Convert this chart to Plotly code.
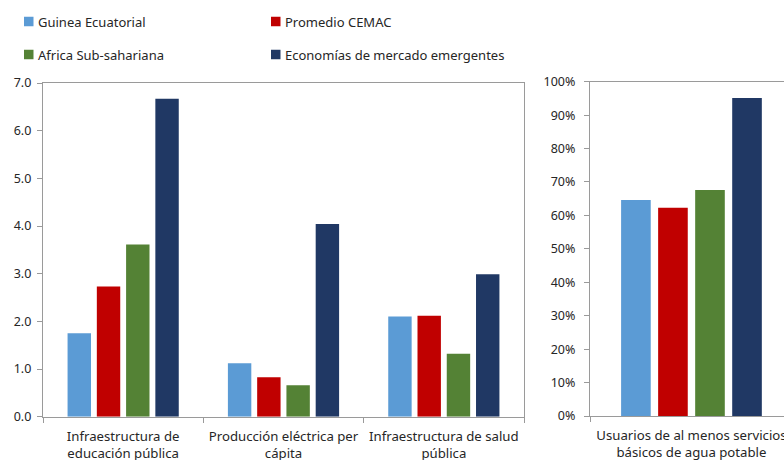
import plotly.graph_objects as go

# Indicator values by group
series = ["Guinea Ecuatorial", "Promedio CEMAC", "Africa Sub-sahariana", "Economías de mercado emergentes"]
colors = ["#5B9BD5", "#C00000", "#548235", "#203864"]

infra_categories = ["Infraestructura de<br>educación pública",
                    "Producción eléctrica per<br>cápita",
                    "Infraestructura de salud<br>pública"]
guinea_infra = [1.75, 1.12, 2.10]
cemac_infra = [2.73, 0.83, 2.12]
ssa_infra = [3.61, 0.66, 1.32]
eme_infra = [6.67, 4.04, 2.99]

water_category = ["Usuarios de al menos servicios<br>básicos de agua potable"]
guinea_water = [0.646]
cemac_water = [0.623]
ssa_water = [0.676]
eme_water = [0.951]

infra_values = [guinea_infra, cemac_infra, ssa_infra, eme_infra]
water_values = [guinea_water, cemac_water, ssa_water, eme_water]

W, H = 784, 460
FONT = "Noto Sans"
AXIS_COLOR = "#9a9a9a"
TEXT_COLOR = "#262626"

fig = go.Figure()
for name, color, vals in zip(series, colors, infra_values):
    fig.add_trace(go.Bar(x=infra_categories, y=vals, name=name, marker_color=color,
                         marker_line_width=0, xaxis="x", yaxis="y", showlegend=False))
for name, color, vals in zip(series, colors, water_values):
    fig.add_trace(go.Bar(x=water_category, y=vals, name=name, marker_color=color,
                         marker_line_width=0, xaxis="x2", yaxis="y2", showlegend=False))


def px_x(p):
    return p / W


def px_y(p):
    return 1 - p / H


# Legend built from shapes and annotations, two columns by two rows
shapes = []
annotations = []
legend_pos = [(24, 21.5), (271, 21.5), (24, 54.5), (271, 54.5)]
for (lx, ly), name, color in zip(legend_pos, series, colors):
    shapes.append(dict(type="rect", xref="paper", yref="paper",
                       x0=px_x(lx), x1=px_x(lx + 9.5), y0=px_y(ly + 4.75), y1=px_y(ly - 4.75),
                       fillcolor=color, line_width=0))
    annotations.append(dict(text=name, xref="paper", yref="paper", x=px_x(lx + 12), y=px_y(ly),
                            xanchor="left", yanchor="middle", showarrow=False,
                            font=dict(family=FONT, size=13, color=TEXT_COLOR)))

axis_common = dict(showline=True, linecolor=AXIS_COLOR, linewidth=1.3, showgrid=False,
                   zeroline=False, ticks="outside", ticklen=5, tickcolor=AXIS_COLOR,
                   automargin=False)
y_font = dict(family=FONT, size=12.5, color=TEXT_COLOR)
x_font = dict(family=FONT, size=13.2, color=TEXT_COLOR)

fig.update_layout(
    width=W, height=H,
    margin=dict(l=0, r=0, t=0, b=0, pad=0),
    paper_bgcolor="white", plot_bgcolor="white",
    barmode="group", bargap=0.27, bargroupgap=0.2,
    shapes=shapes, annotations=annotations,
    xaxis=dict(domain=[px_x(43), px_x(524)], anchor="y", mirror=True,
               tickson="boundaries", tickfont=x_font, ticklabelstandoff=7, **axis_common),
    yaxis=dict(domain=[px_y(416.7), px_y(83)], anchor="x", mirror=True,
               range=[0, 7], dtick=1, tickformat=".1f", ticklabelstandoff=3,
               tickfont=y_font, **axis_common),
    xaxis2=dict(domain=[px_x(590), 1.0], anchor="y2", mirror=True,
                range=[-0.5, 0.456], tickson="boundaries", tickfont=x_font,
                ticklabelstandoff=7, **axis_common),
    yaxis2=dict(domain=[px_y(416), px_y(81.7)], anchor="x2",
                range=[0, 1], dtick=0.1, tickformat=".0%", ticklabelstandoff=6,
                tickfont=y_font, **axis_common),
)

fig.write_html("out.html")
